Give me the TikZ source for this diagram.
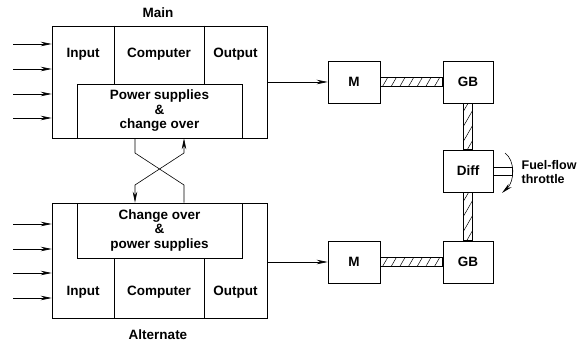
\documentclass[tikz,border=0pt]{standalone}
\usepackage{fontspec}
\setmainfont{Liberation Sans}
\usetikzlibrary{arrows.meta, patterns.meta}

\begin{document}
\begin{tikzpicture}[x=1pt, y=-1pt, line width=0.6pt,
    >={Stealth[length=11pt,width=4.5pt]},
    every node/.style={font=\fontsize{13.5}{14.5}\selectfont\bfseries},
    unitbox/.style={draw, inner sep=0pt, align=center},
    drivebox/.style={draw, inner sep=0pt, minimum height=42pt},
    shaft/.style={draw, pattern={Lines[angle=60,distance=7.5pt,line width=0.5pt]}}]
  \useasboundingbox (0,0) rectangle (585,344);

  % main unit
  \node[unitbox, minimum width=215pt, minimum height=112pt] (main) at (159.5,82) {};
  \node[unitbox, minimum width=165pt, minimum height=54pt] (mainps) at (159.5,111)
    {Power supplies\\\&\\change over};
  \node (maintitle) at (158,13) {Main};
  \node (mainin) at (83,54) {Input};
  \node (maincomp) at (159,54) {Computer};
  \node (mainout) at (235.5,54) {Output};
  \foreach \x in {114,204}{
    \draw (main.north -| \x,0) -- (mainps.north -| \x,0);
  }
  \foreach \y in {44,69,94,118}{
    \draw[->] (13,\y) -- (main.west |- 0,\y);
  }

  % alternate unit
  \node[unitbox, minimum width=215pt, minimum height=115pt] (alt) at (159.5,260.5) {};
  \node[unitbox, minimum width=165pt, minimum height=55pt] (altps) at (159.5,230.5)
    {Change over\\\&\\power supplies};
  \node (alttitle) at (158,335) {Alternate};
  \node (altin) at (83,292) {Input};
  \node (altcomp) at (159,292) {Computer};
  \node (altout) at (235.5,292) {Output};
  \foreach \x in {114,204}{
    \draw (alt.south -| \x,0) -- (altps.south -| \x,0);
  }
  \foreach \y in {224,249,273,298}{
    \draw[->] (13,\y) -- (alt.west |- 0,\y);
  }

  % change over links
  \coordinate (xa) at (135,0);
  \coordinate (xb) at (184,0);
  \draw (mainps.south -| xa) -- (135,153) -- (184,185) -- (altps.north -| xb);
  \draw[<->] (mainps.south -| xb) -- (184,153) -- (135,185) -- (altps.north -| xa);

  % drive train
  \node[drivebox, minimum width=52pt] (m1) at (354,82) {M};
  \node[drivebox, minimum width=50pt] (gb1) at (468,82) {GB};
  \node[drivebox, minimum width=50pt] (diff) at (468,171) {Diff};
  \node[drivebox, minimum width=50pt] (gb2) at (468,262) {GB};
  \node[drivebox, minimum width=52pt] (m2) at (354,262) {M};

  \draw[->] (main.east |- m1.west) -- (m1.west);
  \draw[->] (alt.east |- m2.west) -- (m2.west);

  \draw[shaft] ([yshift=4.5pt]m1.east) rectangle ([yshift=-4.5pt]gb1.west);
  \draw[shaft] ([yshift=4.5pt]m2.east) rectangle ([yshift=-4.5pt]gb2.west);
  \draw[shaft] ([xshift=-4.5pt]gb1.south) rectangle ([xshift=4.5pt]diff.north);
  \draw[shaft] ([xshift=-4.5pt]diff.south) rectangle ([xshift=4.5pt]gb2.north);

  % throttle
  \draw ([yshift=4pt]diff.east) rectangle ([xshift=19pt,yshift=-4pt]diff.east);
  \draw[->] (505,153) .. controls (515,160) and (515,181) .. (502,193);
  \node[font=\fontsize{12.5}{14}\selectfont\bfseries, align=left, anchor=west]
    (throttle) at (518,172) {Fuel-flow\\throttle};
\end{tikzpicture}
\end{document}
